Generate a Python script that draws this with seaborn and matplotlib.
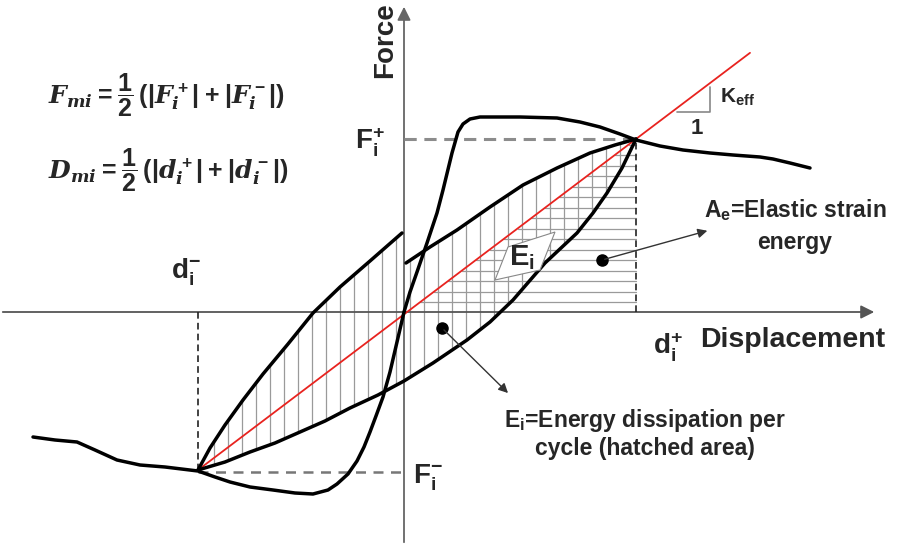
import numpy as np
import matplotlib
matplotlib.use("Agg")
import matplotlib.pyplot as plt
from matplotlib.patches import Polygon
import seaborn as sns

# units: displacement / force measured from the origin of the diagram
# peak points of the cycle
d_pos, F_pos = 232, 173
d_neg, F_neg = -206, -158

# backbone (envelope) curve
bb_d = [-371, -349, -327, -309, -287, -264, -239, -206, -189, -174, -154, -131, -109, -91,
        -76, -67, -56, -47, -40, -34, -28, -21, -14, -7, 0, 6, 13, 23, 33, 39, 48, 54, 59,
        66, 76, 116, 153, 176, 196, 216, 232, 256, 279, 306, 329, 356, 369, 386, 406]
bb_F = [-125, -128, -130, -138, -148, -153, -155, -159, -165, -170, -175, -178, -181, -182,
        -178, -172, -162, -149, -135, -120, -104, -85, -60, -30, 0, 20, 40, 69, 99, 122, 159,
        180, 188, 193, 195, 195, 194, 190, 185, 178, 172, 166, 162, 159, 157, 155, 153, 149, 144]

# hysteresis loop, upper branch (broken at the force axis) and lower branch
up_left_d = [-206, -194, -179, -161, -141, -116, -91, -64, -34, -2]
up_left_F = [-158, -136, -113, -88, -62, -32, -1, 25, 51, 79]
up_right_d = [2, 26, 53, 86, 119, 153, 186, 211, 232]
up_right_F = [49, 65, 82, 105, 127, 144, 159, 167, 173]
low_d = [-206, -179, -154, -129, -104, -79, -54, -26, 0, 29, 63, 86, 109, 141, 173, 189,
         203, 218, 232]
low_F = [-158, -150, -140, -131, -120, -109, -96, -83, -69, -51, -28, -10, 12, 49, 79, 99,
         119, 144, 173]

# effective stiffness line
k_eff = (F_pos - F_neg) / (d_pos - d_neg)
red_d = np.array([d_neg, 346])
red_F = F_neg + k_eff * (red_d - d_neg)

sns.set_theme(style="white")
plt.rcParams['font.family'] = ['Liberation Sans', 'DejaVu Sans']
plt.rcParams['font.weight'] = 'bold'
plt.rcParams['mathtext.fontset'] = 'custom'
plt.rcParams['mathtext.rm'] = 'Liberation Sans:bold'
plt.rcParams['mathtext.bf'] = 'Liberation Sans:bold'
plt.rcParams['mathtext.it'] = 'DejaVu Serif:italic:bold'

fig = plt.figure(figsize=(8.98, 5.45), dpi=100)
ax = fig.add_axes([0, 0, 1, 1])
ax.set_xlim(-404, 494)
ax.set_ylim(-233, 312)
ax.axis('off')

# hatching: vertical lines inside the loop (E_i)
for x in np.arange(-190, d_pos, 14):
    if abs(x) < 3:
        continue
    if x < 0:
        top = np.interp(x, up_left_d, up_left_F)
    else:
        top = np.interp(x, up_right_d, up_right_F)
    bot = np.interp(x, low_d, low_F)
    ax.plot([x, x], [bot, top], color='#9a9a9a', lw=0.9, zorder=1)

# hatching: horizontal lines in the elastic triangle (A_e)
for y in np.arange(10, F_pos, 10.5):
    x0 = d_neg + (y - F_neg) / k_eff
    ax.plot([x0, d_pos], [y, y], color='#9a9a9a', lw=0.9, zorder=1)

# axes with arrows
ax.annotate('', xy=(473, 0), xytext=(-404, 0),
            arrowprops=dict(arrowstyle='-|>', color='#555555', lw=1.3, mutation_scale=20), zorder=2)
ax.annotate('', xy=(0, 308), xytext=(0, -233),
            arrowprops=dict(arrowstyle='-|>', color='#666666', lw=1.3, mutation_scale=20), zorder=2)

# dashed guides to the peaks
ax.plot([0, d_pos], [F_pos, F_pos], color='#8c8c8c', lw=2.2, ls=(0, (4, 2.5)), zorder=2)
ax.plot([d_pos, d_pos], [0, F_pos], color='#222222', lw=1.2, ls=(0, (4, 2.5)), zorder=2)
ax.plot([d_neg, 0], [F_neg - 2, F_neg - 2], color='#777777', lw=1.8, ls=(0, (4, 3)), zorder=2)
ax.plot([d_neg, d_neg], [0, F_neg], color='#222222', lw=1.2, ls=(0, (4, 2.5)), zorder=2)

# red secant line
sns.lineplot(x=red_d, y=red_F, ax=ax, color='#e8231f', linewidth=1.3, sort=False,
             estimator=None, zorder=3)

# stiffness triangle
ax.plot([273, 306, 306], [200, 200, 225], color='#888888', lw=1.2, zorder=3)
ax.text(316, 215, r'$\mathrm{K}_{\mathrm{eff}}$', fontsize=15, va='center', ha='left')
ax.text(293, 184, '1', fontsize=16, ha='center', va='center')

# black curves
for xs, ys in [(bb_d, bb_F), (up_left_d, up_left_F), (up_right_d, up_right_F), (low_d, low_F)]:
    sns.lineplot(x=xs, y=ys, ax=ax, color='black', linewidth=2.5, sort=False,
                 estimator=None, zorder=4, solid_joinstyle='round', solid_capstyle='round')

# E_i label box
ax.add_patch(Polygon([(91, 32), (104, 65), (151, 80), (136, 42)], closed=True,
                     facecolor='white', edgecolor='#888888', lw=0.8, zorder=5))
ax.text(118, 54, r'$\mathrm{E}_{\mathrm{i}}$', fontsize=21, ha='center', va='center', zorder=6)

# pointer dots and arrows
ax.plot([198, 38], [52, -16], 'o', color='black', ms=8, zorder=6)
ax.annotate('', xy=(306, 82), xytext=(198, 52),
            arrowprops=dict(arrowstyle='-|>', color='#333333', lw=1.0, mutation_scale=14), zorder=6)
ax.annotate('', xy=(106, -83), xytext=(38, -16),
            arrowprops=dict(arrowstyle='-|>', color='#333333', lw=1.0, mutation_scale=14), zorder=6)

# labels
ax.text(-19, 272, 'Force', rotation=90, fontsize=20, ha='center', va='center')
ax.text(-34, 170, r'$\mathrm{F}_{\mathrm{i}}^{+}$', fontsize=20, ha='center', va='center')
ax.text(9, -166, r'$\mathrm{F}_{\mathrm{i}}^{-}$', fontsize=20, ha='left', va='center')
ax.text(-218, 40, r'$\mathrm{d}_{\mathrm{i}}^{-}$', fontsize=20, ha='center', va='center')
ax.text(264, -35, r'$\mathrm{d}_{\mathrm{i}}^{+}$', fontsize=20, ha='center', va='center')
ax.text(296, -28, 'Displacement', fontsize=20.5, ha='left', va='center')
ax.text(391, 102, r'$\mathrm{A}_{\mathrm{e}}$=Elastic strain', fontsize=16.5, ha='center', va='center')
ax.text(391, 69, 'energy', fontsize=16.5, ha='center', va='center')
ax.text(241, -108, r'$\mathrm{E}_{\mathrm{i}}$=Energy dissipation per', fontsize=16.5,
        ha='center', va='center')
ax.text(241, -136, 'cycle (hatched area)', fontsize=16.5, ha='center', va='center')

# formulas
ax.text(-356, 217, r'$F_{mi} = \dfrac{1}{2}\,(|F_i^+| + |F_i^-|)$', fontsize=18,
        ha='left', va='center')
ax.text(-356, 142, r'$D_{mi} = \dfrac{1}{2}\,(|d_i^+| + |d_i^-|)$', fontsize=18,
        ha='left', va='center')

fig.savefig('out.png', dpi=100)
